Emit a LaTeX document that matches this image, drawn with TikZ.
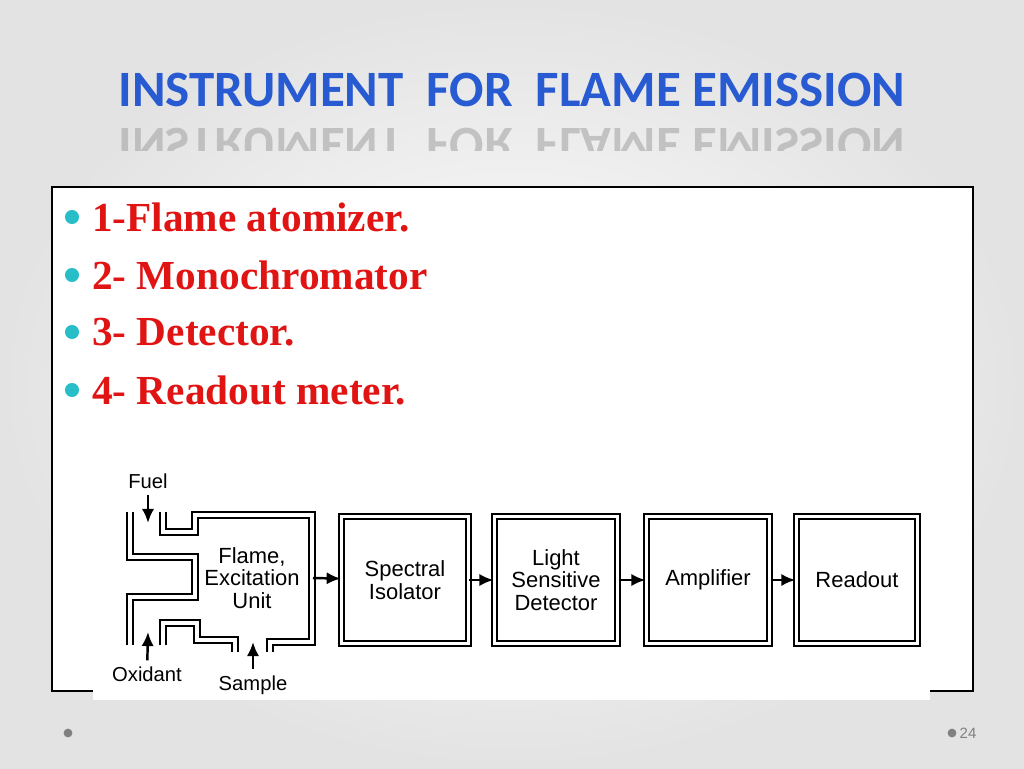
\documentclass[tikz,border=0pt]{standalone}
\usepackage{fontspec}
\setmainfont{Liberation Serif}
\newfontfamily\titlefont{Carlito}
\newfontfamily\labelfont{Liberation Sans}
\usetikzlibrary{arrows.meta}
\definecolor{titleblue}{RGB}{40,90,210}
\definecolor{bulletcyan}{RGB}{40,190,200}
\definecolor{itemred}{RGB}{225,20,20}
\tikzset{
  pipe/.style={draw=black, line width=1.2pt, double=white, double distance=1.8pt},
  unitbox/.style={pipe, minimum width=70pt, minimum height=72pt, font=\labelfont\fontsize{12.5}{13}\selectfont, align=center},
  flow/.style={-{Latex[length=8pt,width=7pt]}, line width=1.4pt},
  item/.style={anchor=west, text=itemred, font=\bfseries\fontsize{23.5}{24}\selectfont},
  bullet/.style={circle, fill=bulletcyan, inner sep=0pt, minimum size=8pt},
  inlabel/.style={font=\labelfont\fontsize{11.5}{12}\selectfont}
}
\begin{document}
\begin{tikzpicture}[x={(0.02cm,0)}, y={(0,-0.02cm)}]
        \useasboundingbox (0,0) rectangle (1024,768);
        \shade[inner color=white, outer color=gray!22] (0,0) rectangle (1024,768);
        % title and its reflection
        \node[text=titleblue, font=\titlefont\bfseries\fontsize{29}{34}\selectfont] (title) at (512,90) {INSTRUMENT\ \ FOR\ \ FLAME EMISSION};
        \begin{scope}
            \clip (0,116) rectangle (1024,150);
            \node[text=gray!70, opacity=0.6, yscale=-1, font=\titlefont\bfseries\fontsize{29}{34}\selectfont] (mirror) at (512,145) {INSTRUMENT\ \ FOR\ \ FLAME EMISSION};
        \end{scope}
        % frame
        \draw[fill=white, line width=1.5pt] (52,187) rectangle (973,691);
        \node[bullet] (b1) at (72,217) {};
        \node[bullet] (b2) at (72,275) {};
        \node[bullet] (b3) at (72,332) {};
        \node[bullet] (b4) at (72,390) {};
        \node[item] (i1) at (86,217) {1-Flame atomizer.};
        \node[item] (i2) at (86,275) {2- Monochromator};
        \node[item] (i3) at (86,332) {3- Detector.};
        \node[item] (i4) at (86,390) {4- Readout meter.};
        % flame unit
        \fill[white] (93,460) rectangle (930,700);
        \draw[pipe] (130,512) -- (130,557) -- (195,557) -- (195,597) -- (130,597) -- (130,645);
        \draw[pipe] (163,512) -- (163,532) -- (195,532) -- (195,515) -- (312,515) -- (312,642) -- (270,642) -- (270,652);
        \draw[pipe] (163,645) -- (163,623) -- (197,623) -- (197,640) -- (235,640) -- (235,652);
        \node[font=\labelfont\fontsize{12.5}{13}\selectfont, align=center] (flame) at (252,578) {Flame,\\Excitation\\Unit};
        \coordinate (flameout) at (313,578);
        % other units
        \node[unitbox, minimum width=72pt] (isolator) at (405,580) {Spectral\\Isolator};
        \node[unitbox] (detector) at (556,580) {Light\\Sensitive\\Detector};
        \node[unitbox] (amplifier) at (708,580) {Amplifier};
        \node[unitbox, minimum width=69pt] (readout) at (857,580) {Readout};
        \draw[flow] (flameout) -- (isolator);
        \draw[flow] (isolator) -- (detector);
        \draw[flow] (detector) -- (amplifier);
        \draw[flow] (amplifier) -- (readout);
        % inputs
        \node[inlabel] (fuel) at (148,481) {Fuel};
        \node[inlabel] (oxidant) at (147,674) {Oxidant};
        \node[inlabel] (sample) at (253,685) {Sample};
        \coordinate (fuelend) at (148,523);
        \coordinate (oxidantend) at (148,632);
        \coordinate (sampleend) at (253,642);
        \draw[flow] (fuel) -- (fuelend);
        \draw[flow] (oxidant) -- (oxidantend);
        \draw[flow] (sample) -- (sampleend);
        % footer
        \node[circle, fill=gray, inner sep=0pt, minimum size=5pt] (dotleft) at (68,733) {};
        \node[circle, fill=gray, inner sep=0pt, minimum size=5pt] (dotright) at (952,733) {};
        \node[text=gray, font=\labelfont\fontsize{8.5}{10}\selectfont] (page) at (968,733) {24};
\end{tikzpicture}
\end{document}
